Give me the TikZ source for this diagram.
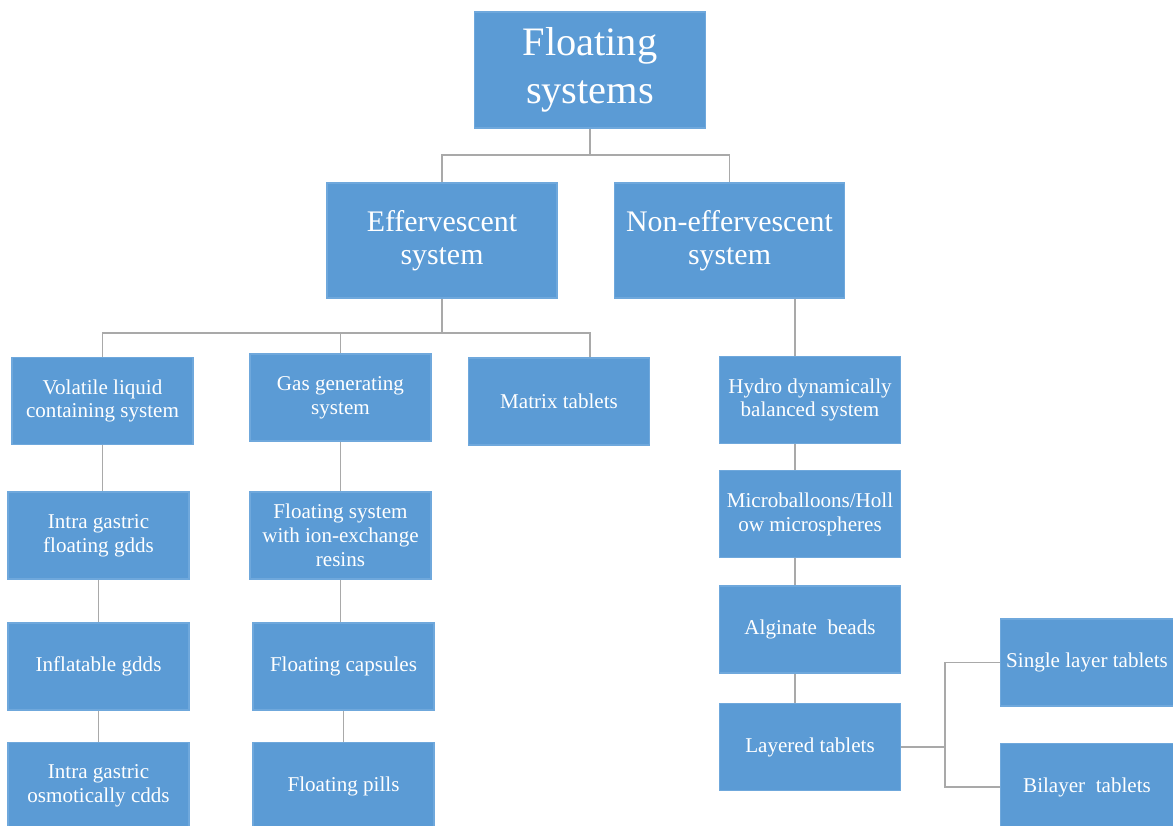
\documentclass[tikz,border=0pt]{standalone}
\usepackage{fontspec}
\setmainfont{Liberation Serif}
\usepackage{xcolor}
\usetikzlibrary{positioning, calc}
\definecolor{boxblue}{HTML}{5B9BD5}
\definecolor{boxedge}{HTML}{6FA8DC}
\definecolor{linkgray}{HTML}{A9A9A9}

\begin{document}
\begin{tikzpicture}[
        x=0.02cm, y=-0.02cm,
        box/.style={rectangle, fill=boxblue, draw=boxedge, line width=0.6pt, text=white, align=center, inner sep=2pt,
            minimum width=3.62cm, minimum height=1.74cm, font=\fontsize{12}{13.6}\selectfont},
        midbox/.style={box, minimum width=4.6cm, minimum height=2.3cm, font=\fontsize{17}{19}\selectfont},
        topbox/.style={box, minimum width=4.62cm, minimum height=2.32cm, font=\fontsize{23}{27}\selectfont},
        link/.style={draw=linkgray, line width=1pt}
    ]
        \clip (0,0) rectangle (1173,825);
        \fill[white] (0,0) rectangle (1173,825);

        % Top levels
        \node[topbox] (root) at (590,70) {Floating\\systems};
        \node[midbox] (eff) at (442,240.5) {Effervescent\\system};
        \node[midbox] (noneff) at (729.5,240.5) {Non-effervescent\\system};

        % Effervescent branch
        \node[box] (volatile) at (102.5,401) {Volatile liquid\\containing system};
        \node[box] (gas) at (340.5,397.5) {Gas generating\\system};
        \node[box] (matrix) at (559,401.5) {Matrix tablets};
        \node[box] (intrafl) at (98.5,535.5) {Intra gastric\\floating gdds};
        \node[box] (inflat) at (98.5,666.5) {Inflatable gdds};
        \node[box] (intraos) at (98.5,786) {Intra gastric\\osmotically cdds};
        \node[box] (ionex) at (340.5,535.5) {Floating system\\with ion-exchange\\resins};
        \node[box] (caps) at (343.5,666.5) {Floating capsules};
        \node[box] (pills) at (343.5,786) {Floating pills};

        % Non-effervescent branch
        \node[box] (hydro) at (810,400) {Hydro dynamically\\balanced system};
        \node[box] (micro) at (810,514) {Microballoons/Holl\\ow microspheres};
        \node[box] (algin) at (810,629.5) {Alginate\ \ beads};
        \node[box] (layer) at (810,747) {Layered tablets};
        \node[box, minimum width=3.48cm] (single) at (1087,662.5) {Single layer tablets};
        \node[box, minimum width=3.48cm] (bilayer) at (1087,787) {Bilayer\ \ tablets};

        % Connectors
        \coordinate (j1) at (590,155);
        \coordinate (j2) at (442,333);
        \coordinate (j3) at (945,747);
        \coordinate (hx) at ($(hydro.north)+(-15,0)$);
        \coordinate (mx) at ($(matrix.north)+(31,0)$);
        \draw[link] (root.south) -- (j1);
        \draw[link] (eff.north) |- (j1) -| (noneff.north);
        \draw[link] (eff.south) -- (j2);
        \draw[link] (volatile.north) |- (j2) -| (gas.north);
        \draw[link] (j2) -| (mx);
        \draw[link] (volatile.south) -- (volatile.south |- intrafl.north);
        \draw[link] (intrafl.south) -- (inflat.north);
        \draw[link] (inflat.south) -- (intraos.north);
        \draw[link] (gas.south) -- (ionex.north);
        \draw[link] (ionex.south) -- (ionex.south |- caps.north);
        \draw[link] (caps.south) -- (pills.north);
        \draw[link] (hx |- noneff.south) -- (hx);
        \draw[link] (hx |- hydro.south) -- (hx |- micro.north);
        \draw[link] (hx |- micro.south) -- (hx |- algin.north);
        \draw[link] (hx |- algin.south) -- (hx |- layer.north);
        \draw[link] (layer.east) -- (j3);
        \draw[link] (single.west) -| (j3) |- (bilayer.west);
    \end{tikzpicture}
\end{document}
